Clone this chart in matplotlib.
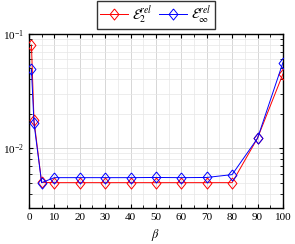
import matplotlib
matplotlib.use("Agg")
import matplotlib.pyplot as plt
from matplotlib.ticker import MultipleLocator, LogLocator, NullFormatter

plt.rcParams['font.family'] = ['Liberation Serif', 'DejaVu Serif']
plt.rcParams['mathtext.fontset'] = 'stix'

beta = [1, 2, 5, 10, 20, 30, 40, 50, 60, 70, 80, 90, 100]
err_2 = [0.080, 0.0176, 0.00503, 0.0050, 0.0050, 0.0050, 0.0050, 0.0050,
         0.0050, 0.0050, 0.0050, 0.01225, 0.0446]
err_inf = [0.049, 0.0165, 0.0050, 0.00553, 0.00553, 0.00553, 0.00553, 0.00555,
           0.00553, 0.00555, 0.00588, 0.0122, 0.056]

# pgfplots-like diamond, a bit taller than wide
diamond = [(0, 1), (0.8, 0), (0, -1), (-0.8, 0), (0, 1)]

fig = plt.figure(figsize=(2.95, 2.44), dpi=100)
ax = fig.add_axes([0.098, 0.1475, 0.861, 0.7135])

ax.plot(beta, err_2, color="red", marker=diamond, markersize=8, markerfacecolor="none",
        linewidth=0.7, markeredgewidth=0.7, label=r"$\mathcal{E}_2^{rel}$", zorder=3)
ax.plot(beta, err_inf, color="blue", marker=diamond, markersize=8, markerfacecolor="none",
        linewidth=0.7, markeredgewidth=0.7, label=r"$\mathcal{E}_\infty^{rel}$", zorder=3)

ax.set_yscale("log")
ax.set_xlim(0, 100)
ax.set_ylim(0.003, 0.1)
ax.xaxis.set_major_locator(MultipleLocator(10))
ax.xaxis.set_minor_locator(MultipleLocator(5))
ax.yaxis.set_major_locator(LogLocator(base=10, numticks=5))
ax.yaxis.set_minor_locator(LogLocator(base=10, subs=range(2, 10), numticks=20))
ax.yaxis.set_minor_formatter(NullFormatter())

ax.grid(True, which="major", color="#d0d0d0", linewidth=0.6)
ax.grid(True, which="minor", color="#e6e6e6", linewidth=0.5)
ax.set_axisbelow(True)
ax.tick_params(which="both", direction="in", top=True, right=True, labelsize=8)
ax.tick_params(which="major", length=3)
ax.tick_params(which="minor", length=2)
for s in ax.spines.values():
    s.set_linewidth(1.0)

ax.set_xlabel(r"$\beta$", fontsize=9)

ax.legend(loc="lower center", bbox_to_anchor=(0.5, 1.03), ncol=2, fontsize=10,
          frameon=True, fancybox=False, edgecolor="black", handlelength=2.0,
          columnspacing=0.5, handletextpad=0.3, borderpad=0.2, borderaxespad=0)

plt.savefig("out.png", dpi=100)
